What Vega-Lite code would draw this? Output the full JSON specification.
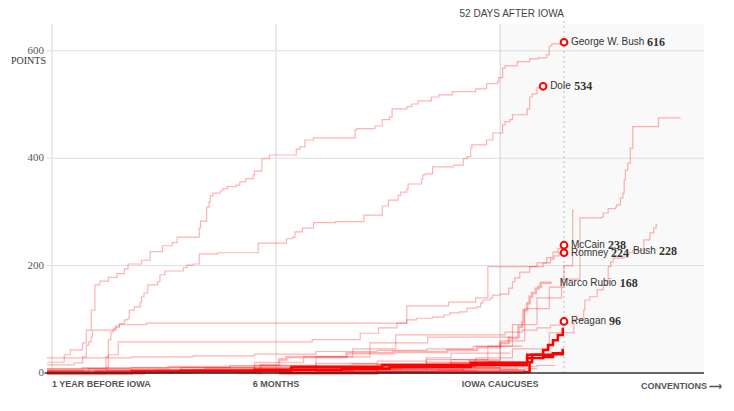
{
"$schema":"https://vega.github.io/schema/vega-lite/v6.json",
"width":657,"height":349,"autosize":"none",
"padding":{"left":47,"top":24,"right":30,"bottom":38},
"background":"white",
"config":{"view":{"stroke":null}},
"datasets":{
"lines":[
{"s":"GWB","k":"past","d":-369,"p":20},{"s":"GWB","k":"past","d":-355,"p":34},{"s":"GWB","k":"past","d":-350,"p":43},{"s":"GWB","k":"past","d":-340,"p":56},{"s":"GWB","k":"past","d":-337,"p":80},{"s":"GWB","k":"past","d":-333,"p":117},{"s":"GWB","k":"past","d":-330,"p":164},{"s":"GWB","k":"past","d":-326,"p":171},{"s":"GWB","k":"past","d":-319,"p":178},{"s":"GWB","k":"past","d":-312,"p":185},{"s":"GWB","k":"past","d":-306,"p":194},{"s":"GWB","k":"past","d":-303,"p":203},{"s":"GWB","k":"past","d":-292,"p":210},{"s":"GWB","k":"past","d":-285,"p":226},{"s":"GWB","k":"past","d":-275,"p":237},{"s":"GWB","k":"past","d":-267,"p":243},{"s":"GWB","k":"past","d":-263,"p":253},{"s":"GWB","k":"past","d":-245,"p":270},{"s":"GWB","k":"past","d":-244,"p":283},{"s":"GWB","k":"past","d":-239,"p":309},{"s":"GWB","k":"past","d":-237,"p":319},{"s":"GWB","k":"past","d":-236,"p":330},{"s":"GWB","k":"past","d":-234,"p":335},{"s":"GWB","k":"past","d":-228,"p":339},{"s":"GWB","k":"past","d":-226,"p":343},{"s":"GWB","k":"past","d":-222,"p":347},{"s":"GWB","k":"past","d":-215,"p":350},{"s":"GWB","k":"past","d":-212,"p":356},{"s":"GWB","k":"past","d":-207,"p":362},{"s":"GWB","k":"past","d":-201,"p":369},{"s":"GWB","k":"past","d":-200,"p":376},{"s":"GWB","k":"past","d":-194,"p":399},{"s":"GWB","k":"past","d":-188,"p":406},{"s":"GWB","k":"past","d":-166,"p":417},{"s":"GWB","k":"past","d":-163,"p":421},{"s":"GWB","k":"past","d":-159,"p":434},{"s":"GWB","k":"past","d":-152,"p":438},{"s":"GWB","k":"past","d":-118,"p":453},{"s":"GWB","k":"past","d":-117,"p":455},{"s":"GWB","k":"past","d":-102,"p":460},{"s":"GWB","k":"past","d":-96,"p":472},{"s":"GWB","k":"past","d":-90,"p":477},{"s":"GWB","k":"past","d":-88,"p":492},{"s":"GWB","k":"past","d":-76,"p":496},{"s":"GWB","k":"past","d":-72,"p":501},{"s":"GWB","k":"past","d":-67,"p":507},{"s":"GWB","k":"past","d":-56,"p":514},{"s":"GWB","k":"past","d":-50,"p":518},{"s":"GWB","k":"past","d":-39,"p":524},{"s":"GWB","k":"past","d":-20,"p":529},{"s":"GWB","k":"past","d":-11,"p":539},{"s":"GWB","k":"past","d":-2,"p":542},{"s":"GWB","k":"past","d":-1,"p":550},{"s":"GWB","k":"past","d":2,"p":568},{"s":"GWB","k":"past","d":4,"p":572},{"s":"GWB","k":"past","d":14,"p":580},{"s":"GWB","k":"past","d":24,"p":585},{"s":"GWB","k":"past","d":31,"p":587},{"s":"GWB","k":"past","d":38,"p":593},{"s":"GWB","k":"past","d":40,"p":609},{"s":"GWB","k":"past","d":42,"p":613},{"s":"GWB","k":"past","d":51,"p":616},{"s":"GWB","k":"past","d":52,"p":616},
{"s":"Dole","k":"past","d":-369,"p":3},{"s":"Dole","k":"past","d":-335,"p":8},{"s":"Dole","k":"past","d":-321,"p":30},{"s":"Dole","k":"past","d":-319,"p":62},{"s":"Dole","k":"past","d":-317,"p":76},{"s":"Dole","k":"past","d":-315,"p":82},{"s":"Dole","k":"past","d":-313,"p":88},{"s":"Dole","k":"past","d":-310,"p":92},{"s":"Dole","k":"past","d":-306,"p":99},{"s":"Dole","k":"past","d":-303,"p":102},{"s":"Dole","k":"past","d":-302,"p":117},{"s":"Dole","k":"past","d":-298,"p":123},{"s":"Dole","k":"past","d":-293,"p":132},{"s":"Dole","k":"past","d":-292,"p":142},{"s":"Dole","k":"past","d":-290,"p":149},{"s":"Dole","k":"past","d":-287,"p":164},{"s":"Dole","k":"past","d":-279,"p":170},{"s":"Dole","k":"past","d":-277,"p":183},{"s":"Dole","k":"past","d":-273,"p":190},{"s":"Dole","k":"past","d":-258,"p":196},{"s":"Dole","k":"past","d":-255,"p":201},{"s":"Dole","k":"past","d":-250,"p":203},{"s":"Dole","k":"past","d":-245,"p":222},{"s":"Dole","k":"past","d":-230,"p":224},{"s":"Dole","k":"past","d":-197,"p":242},{"s":"Dole","k":"past","d":-174,"p":250},{"s":"Dole","k":"past","d":-169,"p":253},{"s":"Dole","k":"past","d":-167,"p":263},{"s":"Dole","k":"past","d":-161,"p":270},{"s":"Dole","k":"past","d":-152,"p":280},{"s":"Dole","k":"past","d":-134,"p":282},{"s":"Dole","k":"past","d":-111,"p":294},{"s":"Dole","k":"past","d":-96,"p":311},{"s":"Dole","k":"past","d":-91,"p":322},{"s":"Dole","k":"past","d":-83,"p":331},{"s":"Dole","k":"past","d":-81,"p":337},{"s":"Dole","k":"past","d":-76,"p":342},{"s":"Dole","k":"past","d":-75,"p":352},{"s":"Dole","k":"past","d":-64,"p":361},{"s":"Dole","k":"past","d":-63,"p":369},{"s":"Dole","k":"past","d":-61,"p":371},{"s":"Dole","k":"past","d":-55,"p":384},{"s":"Dole","k":"past","d":-38,"p":387},{"s":"Dole","k":"past","d":-30,"p":399},{"s":"Dole","k":"past","d":-27,"p":403},{"s":"Dole","k":"past","d":-24,"p":419},{"s":"Dole","k":"past","d":-23,"p":425},{"s":"Dole","k":"past","d":-11,"p":434},{"s":"Dole","k":"past","d":-6,"p":447},{"s":"Dole","k":"past","d":2,"p":462},{"s":"Dole","k":"past","d":4,"p":468},{"s":"Dole","k":"past","d":8,"p":472},{"s":"Dole","k":"past","d":10,"p":481},{"s":"Dole","k":"past","d":22,"p":492},{"s":"Dole","k":"past","d":24,"p":514},{"s":"Dole","k":"past","d":26,"p":520},{"s":"Dole","k":"past","d":30,"p":531},{"s":"Dole","k":"past","d":34,"p":533},{"s":"Dole","k":"past","d":35,"p":533},
{"s":"McCain","k":"past","d":-369,"p":15},{"s":"McCain","k":"past","d":-347,"p":19},{"s":"McCain","k":"past","d":-340,"p":30},{"s":"McCain","k":"past","d":-337,"p":52},{"s":"McCain","k":"past","d":-335,"p":58},{"s":"McCain","k":"past","d":-333,"p":67},{"s":"McCain","k":"past","d":-332,"p":80},{"s":"McCain","k":"past","d":-313,"p":85},{"s":"McCain","k":"past","d":-310,"p":90},{"s":"McCain","k":"past","d":-288,"p":93},{"s":"McCain","k":"past","d":-76,"p":125},{"s":"McCain","k":"past","d":-42,"p":132},{"s":"McCain","k":"past","d":-20,"p":140},{"s":"McCain","k":"past","d":-10,"p":198},{"s":"McCain","k":"past","d":30,"p":205},{"s":"McCain","k":"past","d":38,"p":215},{"s":"McCain","k":"past","d":43,"p":225},{"s":"McCain","k":"past","d":47,"p":232},{"s":"McCain","k":"past","d":51,"p":238},{"s":"McCain","k":"past","d":52,"p":238},
{"s":"Romney","k":"past","d":-369,"p":0},{"s":"Romney","k":"past","d":-330,"p":4},{"s":"Romney","k":"past","d":-320,"p":11},{"s":"Romney","k":"past","d":-319,"p":34},{"s":"Romney","k":"past","d":-311,"p":58},{"s":"Romney","k":"past","d":-153,"p":62},{"s":"Romney","k":"past","d":-114,"p":74},{"s":"Romney","k":"past","d":-99,"p":84},{"s":"Romney","k":"past","d":-84,"p":93},{"s":"Romney","k":"past","d":-76,"p":99},{"s":"Romney","k":"past","d":-68,"p":102},{"s":"Romney","k":"past","d":-55,"p":104},{"s":"Romney","k":"past","d":-46,"p":108},{"s":"Romney","k":"past","d":-41,"p":112},{"s":"Romney","k":"past","d":-33,"p":114},{"s":"Romney","k":"past","d":-27,"p":121},{"s":"Romney","k":"past","d":-19,"p":123},{"s":"Romney","k":"past","d":-16,"p":130},{"s":"Romney","k":"past","d":-14,"p":136},{"s":"Romney","k":"past","d":-8,"p":140},{"s":"Romney","k":"past","d":-6,"p":145},{"s":"Romney","k":"past","d":0,"p":147},{"s":"Romney","k":"past","d":7,"p":158},{"s":"Romney","k":"past","d":10,"p":170},{"s":"Romney","k":"past","d":12,"p":177},{"s":"Romney","k":"past","d":16,"p":188},{"s":"Romney","k":"past","d":24,"p":198},{"s":"Romney","k":"past","d":35,"p":205},{"s":"Romney","k":"past","d":41,"p":212},{"s":"Romney","k":"past","d":44,"p":218},{"s":"Romney","k":"past","d":48,"p":224},{"s":"Romney","k":"past","d":52,"p":224},
{"s":"Reagan","k":"past","d":-369,"p":0},{"s":"Reagan","k":"past","d":-330,"p":3},{"s":"Reagan","k":"past","d":-260,"p":10},{"s":"Reagan","k":"past","d":-200,"p":20},{"s":"Reagan","k":"past","d":-160,"p":30},{"s":"Reagan","k":"past","d":-120,"p":45},{"s":"Reagan","k":"past","d":-85,"p":71},{"s":"Reagan","k":"past","d":4,"p":76},{"s":"Reagan","k":"past","d":18,"p":80},{"s":"Reagan","k":"past","d":30,"p":84},{"s":"Reagan","k":"past","d":41,"p":89},{"s":"Reagan","k":"past","d":49,"p":96},{"s":"Reagan","k":"past","d":52,"p":96},
{"s":"F","k":"past","d":-369,"p":0},{"s":"F","k":"past","d":-250,"p":6},{"s":"F","k":"past","d":-150,"p":12},{"s":"F","k":"past","d":-60,"p":25},{"s":"F","k":"past","d":-10,"p":50},{"s":"F","k":"past","d":10,"p":90},{"s":"F","k":"past","d":30,"p":140},{"s":"F","k":"past","d":50,"p":175},{"s":"F","k":"past","d":65,"p":289},{"s":"F","k":"past","d":83,"p":291},{"s":"F","k":"past","d":84,"p":298},{"s":"F","k":"past","d":88,"p":306},{"s":"F","k":"past","d":94,"p":309},{"s":"F","k":"past","d":95,"p":313},{"s":"F","k":"past","d":98,"p":326},{"s":"F","k":"past","d":100,"p":335},{"s":"F","k":"past","d":101,"p":360},{"s":"F","k":"past","d":102,"p":378},{"s":"F","k":"past","d":104,"p":391},{"s":"F","k":"past","d":106,"p":419},{"s":"F","k":"past","d":108,"p":459},{"s":"F","k":"past","d":129,"p":475},{"s":"F","k":"past","d":147,"p":475},
{"s":"G","k":"past","d":-369,"p":0},{"s":"G","k":"past","d":-200,"p":4},{"s":"G","k":"past","d":-100,"p":12},{"s":"G","k":"past","d":-20,"p":28},{"s":"G","k":"past","d":10,"p":45},{"s":"G","k":"past","d":40,"p":75},{"s":"G","k":"past","d":60,"p":100},{"s":"G","k":"past","d":68,"p":117},{"s":"G","k":"past","d":69,"p":136},{"s":"G","k":"past","d":73,"p":142},{"s":"G","k":"past","d":79,"p":155},{"s":"G","k":"past","d":84,"p":164},{"s":"G","k":"past","d":87,"p":170},{"s":"G","k":"past","d":88,"p":198},{"s":"G","k":"past","d":90,"p":207},{"s":"G","k":"past","d":92,"p":214},{"s":"G","k":"past","d":100,"p":216},{"s":"G","k":"past","d":104,"p":224},{"s":"G","k":"past","d":108,"p":229},{"s":"G","k":"past","d":117,"p":248},{"s":"G","k":"past","d":122,"p":261},{"s":"G","k":"past","d":125,"p":270},{"s":"G","k":"past","d":127,"p":276},{"s":"G","k":"past","d":128,"p":276},
{"s":"H","k":"past","d":-369,"p":0},{"s":"H","k":"past","d":-250,"p":4},{"s":"H","k":"past","d":-120,"p":10},{"s":"H","k":"past","d":-40,"p":25},{"s":"H","k":"past","d":0,"p":60},{"s":"H","k":"past","d":20,"p":120},{"s":"H","k":"past","d":40,"p":160},{"s":"H","k":"past","d":52,"p":200},{"s":"H","k":"past","d":59,"p":303},{"s":"H","k":"past","d":60,"p":303},
{"s":"L1","k":"past","d":-369,"p":28},{"s":"L1","k":"past","d":-300,"p":30},{"s":"L1","k":"past","d":-250,"p":32},{"s":"L1","k":"past","d":-200,"p":35},{"s":"L1","k":"past","d":-150,"p":40},{"s":"L1","k":"past","d":-100,"p":42},{"s":"L1","k":"past","d":-60,"p":45},{"s":"L1","k":"past","d":-22,"p":50},{"s":"L1","k":"past","d":18,"p":50},
{"s":"L2","k":"past","d":-369,"p":8},{"s":"L2","k":"past","d":-300,"p":10},{"s":"L2","k":"past","d":-220,"p":14},{"s":"L2","k":"past","d":-150,"p":18},{"s":"L2","k":"past","d":-100,"p":22},{"s":"L2","k":"past","d":-60,"p":28},{"s":"L2","k":"past","d":-40,"p":37},{"s":"L2","k":"past","d":8,"p":37},
{"s":"L3","k":"past","d":-250,"p":0},{"s":"L3","k":"past","d":-200,"p":10},{"s":"L3","k":"past","d":-150,"p":30},{"s":"L3","k":"past","d":-106,"p":56},{"s":"L3","k":"past","d":-59,"p":67},{"s":"L3","k":"past","d":8,"p":69},
{"s":"L4","k":"past","d":-369,"p":2},{"s":"L4","k":"past","d":-200,"p":4},{"s":"L4","k":"past","d":-100,"p":6},{"s":"L4","k":"past","d":-30,"p":10},{"s":"L4","k":"past","d":0,"p":12},{"s":"L4","k":"past","d":30,"p":14},{"s":"L4","k":"past","d":45,"p":14},
{"s":"L5","k":"past","d":-300,"p":0},{"s":"L5","k":"past","d":-150,"p":3},{"s":"L5","k":"past","d":-50,"p":5},{"s":"L5","k":"past","d":20,"p":8},{"s":"L5","k":"past","d":30,"p":8},
{"s":"L6","k":"past","d":-369,"p":5},{"s":"L6","k":"past","d":-280,"p":6},{"s":"L6","k":"past","d":-150,"p":8},{"s":"L6","k":"past","d":-80,"p":12},{"s":"L6","k":"past","d":-20,"p":18},{"s":"L6","k":"past","d":5,"p":18},
{"s":"Rubio","k":"out","d":-215,"p":0},{"s":"Rubio","k":"out","d":-195,"p":15},{"s":"Rubio","k":"out","d":-180,"p":25},{"s":"Rubio","k":"out","d":-174,"p":30},{"s":"Rubio","k":"out","d":-125,"p":37},{"s":"Rubio","k":"out","d":-87,"p":39},{"s":"Rubio","k":"out","d":-43,"p":43},{"s":"Rubio","k":"out","d":-19,"p":48},{"s":"Rubio","k":"out","d":0,"p":56},{"s":"Rubio","k":"out","d":7,"p":65},{"s":"Rubio","k":"out","d":14,"p":67},{"s":"Rubio","k":"out","d":15,"p":86},{"s":"Rubio","k":"out","d":18,"p":95},{"s":"Rubio","k":"out","d":19,"p":117},{"s":"Rubio","k":"out","d":22,"p":130},{"s":"Rubio","k":"out","d":24,"p":142},{"s":"Rubio","k":"out","d":26,"p":149},{"s":"Rubio","k":"out","d":29,"p":157},{"s":"Rubio","k":"out","d":31,"p":160},{"s":"Rubio","k":"out","d":33,"p":168},{"s":"Rubio","k":"out","d":42,"p":168},
{"s":"O1","k":"out","d":-369,"p":3},{"s":"O1","k":"out","d":-300,"p":5},{"s":"O1","k":"out","d":-240,"p":8},{"s":"O1","k":"out","d":-150,"p":12},{"s":"O1","k":"out","d":-100,"p":15},{"s":"O1","k":"out","d":-40,"p":18},{"s":"O1","k":"out","d":-10,"p":20},{"s":"O1","k":"out","d":20,"p":20},
{"s":"O2","k":"out","d":-369,"p":0},{"s":"O2","k":"out","d":-320,"p":4},{"s":"O2","k":"out","d":-200,"p":6},{"s":"O2","k":"out","d":-120,"p":9},{"s":"O2","k":"out","d":-60,"p":14},{"s":"O2","k":"out","d":-5,"p":16},{"s":"O2","k":"out","d":10,"p":16},
{"s":"O3","k":"out","d":-330,"p":1},{"s":"O3","k":"out","d":-250,"p":3},{"s":"O3","k":"out","d":-180,"p":5},{"s":"O3","k":"out","d":-100,"p":8},{"s":"O3","k":"out","d":-30,"p":10},{"s":"O3","k":"out","d":0,"p":10},
{"s":"O4","k":"out","d":-200,"p":0},{"s":"O4","k":"out","d":-150,"p":2},{"s":"O4","k":"out","d":-100,"p":4},{"s":"O4","k":"out","d":-60,"p":6},{"s":"O4","k":"out","d":-20,"p":8},{"s":"O4","k":"out","d":15,"p":8},
{"s":"O5","k":"out","d":-369,"p":6},{"s":"O5","k":"out","d":-340,"p":9},{"s":"O5","k":"out","d":-270,"p":11},{"s":"O5","k":"out","d":-200,"p":13},{"s":"O5","k":"out","d":-120,"p":16},{"s":"O5","k":"out","d":-60,"p":19},{"s":"O5","k":"out","d":-25,"p":22},{"s":"O5","k":"out","d":0,"p":22},
{"s":"O6","k":"out","d":-150,"p":0},{"s":"O6","k":"out","d":-100,"p":2},{"s":"O6","k":"out","d":-50,"p":3},{"s":"O6","k":"out","d":0,"p":5},{"s":"O6","k":"out","d":20,"p":5},
{"s":"T1","k":"active","d":-369,"p":0},{"s":"T1","k":"active","d":-290,"p":2},{"s":"T1","k":"active","d":-260,"p":4},{"s":"T1","k":"active","d":-170,"p":11},{"s":"T1","k":"active","d":-96,"p":15},{"s":"T1","k":"active","d":-24,"p":19},{"s":"T1","k":"active","d":22,"p":34},{"s":"T1","k":"active","d":35,"p":43},{"s":"T1","k":"active","d":39,"p":52},{"s":"T1","k":"active","d":43,"p":61},{"s":"T1","k":"active","d":47,"p":71},{"s":"T1","k":"active","d":51,"p":82},{"s":"T1","k":"active","d":52,"p":82},
{"s":"T2","k":"active","d":-369,"p":0},{"s":"T2","k":"active","d":-300,"p":3},{"s":"T2","k":"active","d":-200,"p":6},{"s":"T2","k":"active","d":-129,"p":8},{"s":"T2","k":"active","d":-90,"p":11},{"s":"T2","k":"active","d":-24,"p":15},{"s":"T2","k":"active","d":22,"p":28},{"s":"T2","k":"active","d":26,"p":34},{"s":"T2","k":"active","d":43,"p":37},{"s":"T2","k":"active","d":51,"p":43},{"s":"T2","k":"active","d":52,"p":43},
{"s":"T3","k":"active","d":-180,"p":0},{"s":"T3","k":"active","d":-100,"p":1},{"s":"T3","k":"active","d":20,"p":2},{"s":"T3","k":"active","d":24,"p":20},{"s":"T3","k":"active","d":26,"p":28},{"s":"T3","k":"active","d":35,"p":30},{"s":"T3","k":"active","d":43,"p":35},{"s":"T3","k":"active","d":51,"p":39},{"s":"T3","k":"active","d":52,"p":39}
],
"labels":[
{"n":"George W. Bush","v":616,"d":52,"p":616},{"n":"Dole","v":534,"d":35,"p":534},{"n":"McCain","v":238,"d":52,"p":238},{"n":"Romney","v":224,"d":52,"p":224},{"n":"Reagan","v":96,"d":52,"p":96},{"n":"Marco Rubio","v":168,"d":42,"p":168},{"n":"Bush","v":228,"d":52,"p":227}
],
"xlab":[
{"t":"1 YEAR BEFORE IOWA","d":-365,"a":"l"},{"t":"6 MONTHS","d":-182.5,"a":"c"},{"t":"IOWA CAUCUSES","d":0,"a":"c"},{"t":"CONVENTIONS \u27f6","d":181,"a":"r"}
],
"yticks":[{"p":0},{"p":200},{"p":400},{"p":600}],
"vgrid":[{"d":-365},{"d":-182.5}]
},
"layer":[
{"data":{"values":[{"a":0,"b":166}]},
 "mark":{"type":"rect","fill":"#000","fillOpacity":0.025},
 "encoding":{"x":{"field":"a","type":"quantitative","scale":{"domain":[-369,166],"nice":false,"zero":false},"axis":null},"x2":{"field":"b"},
  "y":{"datum":0,"type":"quantitative","scale":{"domain":[0,650],"nice":false},"axis":null},"y2":{"datum":650}}},
{"data":{"name":"yticks"},"transform":[{"filter":"datum.p>0"}],
 "mark":{"type":"rule","stroke":"#dddddd","strokeWidth":1},
 "encoding":{"y":{"field":"p","type":"quantitative","scale":{"domain":[0,650],"nice":false},"axis":null}}},
{"data":{"name":"vgrid"},
 "mark":{"type":"rule","stroke":"#e2e2e2","strokeWidth":1.5},
 "encoding":{"x":{"field":"d","type":"quantitative","scale":{"domain":[-369,166],"nice":false,"zero":false},"axis":null}}},
{"data":{"values":[{"d":0}]},
 "mark":{"type":"rule","stroke":"#cfcfcf","strokeWidth":1},
 "encoding":{"x":{"field":"d","type":"quantitative","scale":{"domain":[-369,166],"nice":false,"zero":false},"axis":null}}},
{"data":{"values":[{"d":52}]},
 "mark":{"type":"rule","stroke":"#bbbbbb","strokeWidth":1,"strokeDash":[2,3]},
 "encoding":{"x":{"field":"d","type":"quantitative","scale":{"domain":[-369,166],"nice":false,"zero":false},"axis":null},
  "y":{"datum":0,"type":"quantitative","scale":{"domain":[0,650],"nice":false},"axis":null},"y2":{"datum":660}}},
{"data":{"name":"lines"},"transform":[{"filter":"datum.k==='past'"}],
 "mark":{"type":"line","interpolate":"step-after","stroke":"#ff0000","strokeOpacity":0.3,"strokeWidth":1.2},
 "encoding":{"x":{"field":"d","type":"quantitative","scale":{"domain":[-369,166],"nice":false,"zero":false},"axis":null},
  "y":{"field":"p","type":"quantitative","scale":{"domain":[0,650],"nice":false},"axis":null},
  "detail":{"field":"s"}}},
{"data":{"name":"lines"},"transform":[{"filter":"datum.k==='out'"}],
 "mark":{"type":"line","interpolate":"step-after","stroke":"#ff0000","strokeOpacity":0.3,"strokeWidth":2.5},
 "encoding":{"x":{"field":"d","type":"quantitative","scale":{"domain":[-369,166],"nice":false,"zero":false},"axis":null},
  "y":{"field":"p","type":"quantitative","scale":{"domain":[0,650],"nice":false},"axis":null},"detail":{"field":"s"}}},
{"data":{"name":"lines"},"transform":[{"filter":"datum.k==='active'"}],
 "mark":{"type":"line","interpolate":"step-after","stroke":"#ff0000","strokeOpacity":1,"strokeWidth":2.5},
 "encoding":{"x":{"field":"d","type":"quantitative","scale":{"domain":[-369,166],"nice":false,"zero":false},"axis":null},
  "y":{"field":"p","type":"quantitative","scale":{"domain":[0,650],"nice":false},"axis":null},"detail":{"field":"s"}}},
{"data":{"values":[{"a":-371,"b":166}]},
 "mark":{"type":"rule","stroke":"#333333","strokeWidth":1.5},
 "encoding":{"x":{"field":"a","type":"quantitative","scale":{"domain":[-369,166],"nice":false,"zero":false},"axis":null},"x2":{"field":"b"},
  "y":{"datum":0,"type":"quantitative","scale":{"domain":[0,650],"nice":false},"axis":null}}},
{"data":{"name":"yticks"},
 "mark":{"type":"text","align":"right","baseline":"middle","dx":-3,"font":"Liberation Serif","fontSize":11,"fill":"#555555"},
 "encoding":{"x":{"datum":-369,"type":"quantitative","scale":{"domain":[-369,166],"nice":false,"zero":false},"axis":null},
  "y":{"field":"p","type":"quantitative","scale":{"domain":[0,650],"nice":false},"axis":null},"text":{"field":"p"}}},
{"data":{"name":"labels"},"transform":[{"filter":"datum.n!=='Marco Rubio' && datum.n!=='Bush'"}],
 "mark":{"type":"point","shape":"circle","filled":true,"fill":"white","stroke":"#ff0000","strokeWidth":2,"size":45,"opacity":1},
 "encoding":{"x":{"field":"d","type":"quantitative","scale":{"domain":[-369,166],"nice":false,"zero":false},"axis":null},
  "y":{"field":"p","type":"quantitative","scale":{"domain":[0,650],"nice":false},"axis":null}}},
{"data":{"name":"labels"},"transform":[{"filter":"datum.n!=='Marco Rubio' && datum.n!=='Bush'"}],
 "mark":{"type":"text","align":"left","baseline":"middle","dx":7,"font":"Liberation Sans","fontSize":10,"fill":"#333333"},
 "encoding":{"x":{"field":"d","type":"quantitative","scale":{"domain":[-369,166],"nice":false,"zero":false},"axis":null},
  "y":{"field":"p","type":"quantitative","scale":{"domain":[0,650],"nice":false},"axis":null},"text":{"field":"n"}}},
{"data":{"name":"labels"},"transform":[{"filter":"datum.n==='Marco Rubio'"}],
 "mark":{"type":"text","align":"left","baseline":"middle","dx":8,"font":"Liberation Sans","fontSize":10,"fill":"#333333"},
 "encoding":{"x":{"field":"d","type":"quantitative","scale":{"domain":[-369,166],"nice":false,"zero":false},"axis":null},
  "y":{"field":"p","type":"quantitative","scale":{"domain":[0,650],"nice":false},"axis":null},"text":{"field":"n"}}},
{"data":{"name":"labels"},"transform":[{"filter":"datum.n==='Bush'"}],
 "mark":{"type":"text","align":"left","baseline":"middle","dx":69,"font":"Liberation Sans","fontSize":10,"fill":"#333333"},
 "encoding":{"x":{"field":"d","type":"quantitative","scale":{"domain":[-369,166],"nice":false,"zero":false},"axis":null},
  "y":{"field":"p","type":"quantitative","scale":{"domain":[0,650],"nice":false},"axis":null},"text":{"field":"n"}}},
{"data":{"name":"labels"},"transform":[{"filter":"datum.n==='George W. Bush'"}],
 "mark":{"type":"text","align":"left","baseline":"middle","dx":83,"font":"Liberation Serif","fontWeight":"bold","fontSize":12,"fill":"#333333"},
 "encoding":{"x":{"field":"d","type":"quantitative","scale":{"domain":[-369,166],"nice":false,"zero":false},"axis":null},
  "y":{"field":"p","type":"quantitative","scale":{"domain":[0,650],"nice":false},"axis":null},"text":{"field":"v"}}},
{"data":{"name":"labels"},"transform":[{"filter":"datum.n==='Dole'"}],
 "mark":{"type":"text","align":"left","baseline":"middle","dx":31,"font":"Liberation Serif","fontWeight":"bold","fontSize":12,"fill":"#333333"},
 "encoding":{"x":{"field":"d","type":"quantitative","scale":{"domain":[-369,166],"nice":false,"zero":false},"axis":null},
  "y":{"field":"p","type":"quantitative","scale":{"domain":[0,650],"nice":false},"axis":null},"text":{"field":"v"}}},
{"data":{"name":"labels"},"transform":[{"filter":"datum.n==='McCain'"}],
 "mark":{"type":"text","align":"left","baseline":"middle","dx":44,"font":"Liberation Serif","fontWeight":"bold","fontSize":12,"fill":"#333333"},
 "encoding":{"x":{"field":"d","type":"quantitative","scale":{"domain":[-369,166],"nice":false,"zero":false},"axis":null},
  "y":{"field":"p","type":"quantitative","scale":{"domain":[0,650],"nice":false},"axis":null},"text":{"field":"v"}}},
{"data":{"name":"labels"},"transform":[{"filter":"datum.n==='Romney'"}],
 "mark":{"type":"text","align":"left","baseline":"middle","dx":47,"font":"Liberation Serif","fontWeight":"bold","fontSize":12,"fill":"#333333"},
 "encoding":{"x":{"field":"d","type":"quantitative","scale":{"domain":[-369,166],"nice":false,"zero":false},"axis":null},
  "y":{"field":"p","type":"quantitative","scale":{"domain":[0,650],"nice":false},"axis":null},"text":{"field":"v"}}},
{"data":{"name":"labels"},"transform":[{"filter":"datum.n==='Reagan'"}],
 "mark":{"type":"text","align":"left","baseline":"middle","dx":45,"font":"Liberation Serif","fontWeight":"bold","fontSize":12,"fill":"#333333"},
 "encoding":{"x":{"field":"d","type":"quantitative","scale":{"domain":[-369,166],"nice":false,"zero":false},"axis":null},
  "y":{"field":"p","type":"quantitative","scale":{"domain":[0,650],"nice":false},"axis":null},"text":{"field":"v"}}},
{"data":{"name":"labels"},"transform":[{"filter":"datum.n==='Marco Rubio'"}],
 "mark":{"type":"text","align":"left","baseline":"middle","dx":68,"font":"Liberation Serif","fontWeight":"bold","fontSize":12,"fill":"#333333"},
 "encoding":{"x":{"field":"d","type":"quantitative","scale":{"domain":[-369,166],"nice":false,"zero":false},"axis":null},
  "y":{"field":"p","type":"quantitative","scale":{"domain":[0,650],"nice":false},"axis":null},"text":{"field":"v"}}},
{"data":{"name":"labels"},"transform":[{"filter":"datum.n==='Bush'"}],
 "mark":{"type":"text","align":"left","baseline":"middle","dx":95,"font":"Liberation Serif","fontWeight":"bold","fontSize":12,"fill":"#333333"},
 "encoding":{"x":{"field":"d","type":"quantitative","scale":{"domain":[-369,166],"nice":false,"zero":false},"axis":null},
  "y":{"field":"p","type":"quantitative","scale":{"domain":[0,650],"nice":false},"axis":null},"text":{"field":"v"}}},
{"data":{"values":[{"t":"52 DAYS AFTER IOWA","d":52,"p":669}]},
 "mark":{"type":"text","align":"right","baseline":"middle","font":"Liberation Sans","fontSize":10,"fill":"#444444"},
 "encoding":{"x":{"field":"d","type":"quantitative","scale":{"domain":[-369,166],"nice":false,"zero":false},"axis":null},
  "y":{"field":"p","type":"quantitative","scale":{"domain":[0,650],"nice":false},"axis":null},"text":{"field":"t"}}},
{"data":{"values":[{"t":"POINTS","d":-369,"p":581}]},
 "mark":{"type":"text","align":"right","baseline":"middle","dx":-1,"font":"Liberation Serif","fontSize":10,"fill":"#333333"},
 "encoding":{"x":{"field":"d","type":"quantitative","scale":{"domain":[-369,166],"nice":false,"zero":false},"axis":null},
  "y":{"field":"p","type":"quantitative","scale":{"domain":[0,650],"nice":false},"axis":null},"text":{"field":"t"}}},
{"data":{"name":"xlab"},"transform":[{"filter":"datum.a==='l'"}],
 "mark":{"type":"text","align":"left","baseline":"middle","font":"Liberation Sans","fontWeight":"bold","fontSize":9,"fill":"#555555"},
 "encoding":{"x":{"field":"d","type":"quantitative","scale":{"domain":[-369,166],"nice":false,"zero":false},"axis":null},
  "y":{"datum":-20.5,"type":"quantitative","scale":{"domain":[0,650],"nice":false},"axis":null},"text":{"field":"t"}}},
{"data":{"name":"xlab"},"transform":[{"filter":"datum.a==='c'"}],
 "mark":{"type":"text","align":"center","baseline":"middle","font":"Liberation Sans","fontWeight":"bold","fontSize":9,"fill":"#555555"},
 "encoding":{"x":{"field":"d","type":"quantitative","scale":{"domain":[-369,166],"nice":false,"zero":false},"axis":null},
  "y":{"datum":-20.5,"type":"quantitative","scale":{"domain":[0,650],"nice":false},"axis":null},"text":{"field":"t"}}},
{"data":{"name":"xlab"},"transform":[{"filter":"datum.a==='r'"}],
 "mark":{"type":"text","align":"right","baseline":"middle","font":"Liberation Sans","fontWeight":"bold","fontSize":9,"fill":"#555555"},
 "encoding":{"x":{"field":"d","type":"quantitative","scale":{"domain":[-369,166],"nice":false,"zero":false},"axis":null},
  "y":{"datum":-24,"type":"quantitative","scale":{"domain":[0,650],"nice":false},"axis":null},"text":{"field":"t"}}}
]
}
